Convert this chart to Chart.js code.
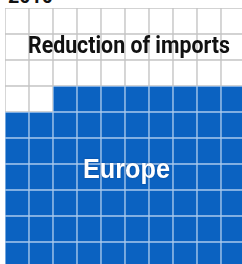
<!DOCTYPE html>
<html>
<head>
<meta charset="utf-8">
<script src="https://cdn.jsdelivr.net/npm/chart.js@4/dist/chart.umd.min.js"></script>
<style>
  html, body { margin: 0; padding: 0; background: #fff; overflow: hidden; width: 242px; height: 264px; }
  #wrap { position: absolute; left: 5px; top: 8px; width: 240px; height: 260px; }
  .lbl { position: absolute; white-space: nowrap; transform-origin: 0 0; line-height: 1; }
  #year { font: bold 20px Roboto, sans-serif; color: #111; left: 8px; top: -16px; }
  #seg0 { font: bold 23px Roboto, sans-serif; color: #111; left: 28px; top: 32px; }
  #seg1 { font: bold 27px "Liberation Sans", Arial, sans-serif; color: #fff; left: 83px; top: 154px;
          text-shadow: 0 0 2px rgba(0, 30, 80, 0.5); }
</style>
</head>
<body>
<div id="wrap"><canvas id="c"></canvas></div>
<div id="year" class="lbl"></div>
<div id="seg0" class="lbl"></div>
<div id="seg1" class="lbl"></div>
<script>
  // waffle: 10 x 10 cells, filled row by row from the top left
  var yearLabel = '2010';
  var columns = ['1', '2', '3', '4', '5', '6', '7', '8', '9', '10'];
  var rowCount = 10;
  var segmentLabels = ['Reduction of imports', 'Europe'];
  var segmentCells = [32, 68];
  var segmentColors = ['#ffffff', '#0b62c1'];
  var segmentBorders = ['#c4c4c4', '#a9c9ec'];

  function segmentOf(index) {
    var acc = 0;
    for (var s = 0; s < segmentCells.length; s++) {
      acc += segmentCells[s];
      if (index < acc) return s;
    }
    return segmentCells.length - 1;
  }

  var datasets = [];
  // bars stack from the bottom, so the last row goes first
  for (var r = rowCount - 1; r >= 0; r--) {
    var fills = [], borders = [], cells = [];
    for (var c = 0; c < columns.length; c++) {
      var s = segmentOf(r * columns.length + c);
      fills.push(segmentColors[s]);
      borders.push(segmentBorders[s]);
      cells.push(1);
    }
    datasets.push({
      label: 'row ' + (r + 1),
      data: cells,
      backgroundColor: fills,
      borderColor: borders,
      borderWidth: 1,
      borderSkipped: false,
      barPercentage: 1,
      categoryPercentage: 1
    });
  }

  new Chart(document.getElementById('c').getContext('2d'), {
    type: 'bar',
    data: { labels: columns, datasets: datasets },
    options: {
      responsive: true,
      maintainAspectRatio: false,
      animation: false,
      layout: { padding: 0 },
      plugins: { legend: { display: false }, tooltip: { enabled: false } },
      scales: {
        x: { stacked: true, display: false },
        y: { stacked: true, display: false, min: 0, max: rowCount }
      }
    }
  });

  function fitText(id, text, width) {
    var el = document.getElementById(id);
    el.textContent = text;
    var w = el.getBoundingClientRect().width;
    if (w > 0) el.style.transform = 'scaleX(' + (width / w) + ')';
  }
  fitText('year', yearLabel, 45);
  fitText('seg0', segmentLabels[0], 202);
  fitText('seg1', segmentLabels[1], 87);
</script>
</body>
</html>
